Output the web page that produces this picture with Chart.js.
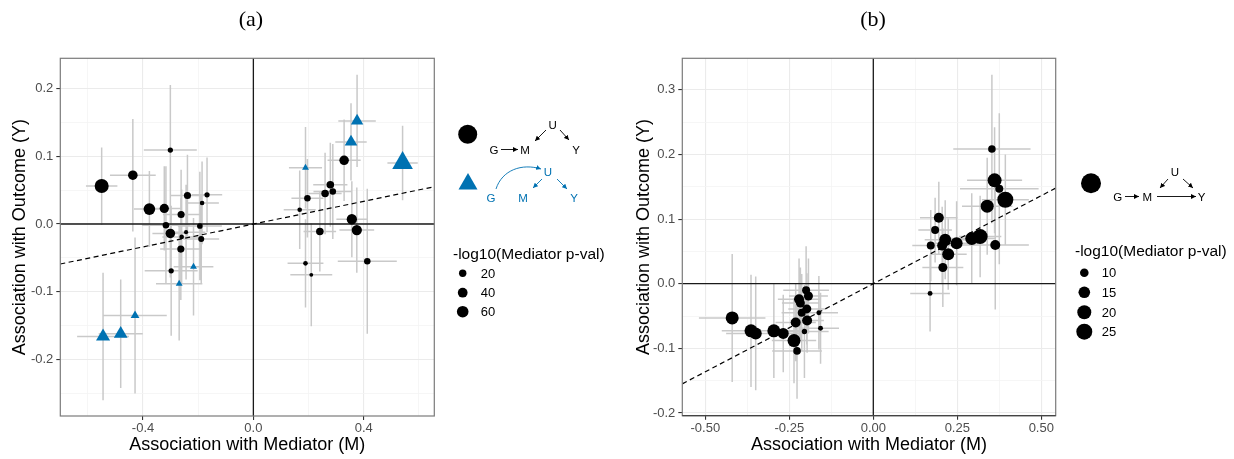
<!DOCTYPE html>
<html>
<head>
<meta charset="utf-8">
<script src="https://cdn.jsdelivr.net/npm/chart.js@4.4.1/dist/chart.umd.min.js"></script>
<style>
  html, body { margin:0; padding:0; background:#fff; }
  #wrap { position:relative; width:1234px; height:459px; overflow:hidden; background:#fff; }
  #wrap canvas { position:absolute; top:0; }
  #ca { left:0; }
  #cb { left:624px; }
  #ov { position:absolute; left:0; top:0; pointer-events:none; }
  #ov text { font-family:"Liberation Sans", Arial, sans-serif; }
</style>
</head>
<body>
<div id="wrap">
  <canvas id="ca" width="440" height="459"></canvas>
  <canvas id="cb" width="440" height="459"></canvas>
  <svg id="ov" width="1234" height="459" xmlns="http://www.w3.org/2000/svg">
    <defs>
      <marker id="ak" viewBox="0 0 10 10" refX="10" refY="5" markerWidth="5" markerHeight="5" markerUnits="userSpaceOnUse" orient="auto"><path d="M0,0 L10,5 L0,10 z" fill="#000"/></marker>
      <marker id="ab" viewBox="0 0 10 10" refX="10" refY="5" markerWidth="5" markerHeight="5" markerUnits="userSpaceOnUse" orient="auto"><path d="M0,0 L10,5 L0,10 z" fill="#0072B2"/></marker>
    </defs>
    <text x="251" y="26" text-anchor="middle" style="font-family:'Liberation Serif','DejaVu Serif',serif;font-size:22px">(a)</text>
    <text x="873" y="26" text-anchor="middle" style="font-family:'Liberation Serif','DejaVu Serif',serif;font-size:22px">(b)</text>

    <!-- panel (a) shape legend -->
    <circle cx="467.7" cy="134.3" r="9.5" fill="#000"/>
    <g font-size="11.5" text-anchor="middle" dominant-baseline="central" fill="#000">
      <text x="552.7" y="125">U</text>
      <text x="494" y="150">G</text>
      <text x="525" y="150">M</text>
      <text x="576" y="150">Y</text>
    </g>
    <g stroke="#000" stroke-width="0.9" fill="none">
      <line x1="501" y1="149.5" x2="518" y2="149.5" marker-end="url(#ak)"/>
      <line x1="546" y1="130" x2="535" y2="141" marker-end="url(#ak)"/>
      <line x1="560" y1="130" x2="569" y2="140" marker-end="url(#ak)"/>
    </g>
    <polygon points="468,173 458.5,189.5 477.5,189.5" fill="#0072B2"/>
    <g font-size="11.5" text-anchor="middle" dominant-baseline="central" fill="#0072B2">
      <text x="548" y="172">U</text>
      <text x="491" y="198">G</text>
      <text x="523" y="198">M</text>
      <text x="574" y="198">Y</text>
    </g>
    <g stroke="#0072B2" stroke-width="0.9" fill="none">
      <path d="M496,189 C502,170 522,163 541,169" marker-end="url(#ab)"/>
      <line x1="542" y1="179" x2="533" y2="188" marker-end="url(#ab)"/>
      <line x1="557" y1="179" x2="567" y2="189" marker-end="url(#ab)"/>
    </g>
    <text x="453" y="253" font-size="15.5" dominant-baseline="central" fill="#000">-log10(Mediator p-val)</text>
    <g id="keysA"></g>

    <!-- panel (b) shape legend -->
    <circle cx="1091" cy="183.3" r="10" fill="#000"/>
    <g font-size="11.5" text-anchor="middle" dominant-baseline="central" fill="#000">
      <text x="1175" y="172.3">U</text>
      <text x="1117.7" y="196.7">G</text>
      <text x="1147.3" y="196.7">M</text>
      <text x="1201.7" y="196.7">Y</text>
    </g>
    <g stroke="#000" stroke-width="0.9" fill="none">
      <line x1="1125" y1="196.5" x2="1139" y2="196.5" marker-end="url(#ak)"/>
      <line x1="1157" y1="196.5" x2="1196" y2="196.5" marker-end="url(#ak)"/>
      <line x1="1168" y1="179" x2="1160" y2="188" marker-end="url(#ak)"/>
      <line x1="1183" y1="179" x2="1193" y2="188" marker-end="url(#ak)"/>
    </g>
    <text x="1075" y="250" font-size="15.5" dominant-baseline="central" fill="#000">-log10(Mediator p-val)</text>
    <g id="keysB"></g>
  </svg>
</div>
<script>
// ---------------- Panel (a) data ----------------
const aX = [-0.550,-0.437,-0.301,-0.377,-0.323,-0.239,-0.168,-0.262,-0.186,-0.317,-0.301,-0.244,-0.194,-0.260,-0.189,-0.263,-0.298,
            -0.217,-0.269,-0.429,-0.481,-0.545,
             0.376, 0.354, 0.189, 0.541,
             0.329, 0.279, 0.288, 0.260, 0.196, 0.168, 0.357, 0.375, 0.241, 0.189, 0.210, 0.413];
const aY = [ 0.056, 0.072, 0.109, 0.022, 0.023, 0.042, 0.043, 0.014, 0.031,-0.002,-0.014,-0.012,-0.003,-0.019,-0.022,-0.037,-0.069,
            -0.063,-0.088,-0.135,-0.162,-0.166,
             0.152, 0.121, 0.083, 0.090,
             0.094, 0.058, 0.048, 0.045, 0.038, 0.021, 0.007,-0.009,-0.011,-0.058,-0.075,-0.055];
const aCI = [0.057,0.083,0.096,0.056,0.062,0.060,0.055,0.066,0.061,0.087,0.065,0.070,0.080,0.070,0.065,0.075,0.096,
             0.072,0.084,0.115,0.080,0.094,
             0.068,0.057,0.060,0.055,
             0.060,0.062,0.070,0.060,0.058,0.058,0.056,0.063,0.059,0.065,0.076,0.107];
const aSize = [91,38,7,60,35,18,7,18,4,14,38,2,9,4,11,18,7,
               8,8,17,52,55,
               41,43,8,129,
               38,21,14,21,14,4,45,45,21,4,1,14];
const aShape = [0,0,0,0,0,0,0,0,0,0,0,0,0,0,0,0,0,
                1,1,1,1,1,
                1,1,1,1,
                0,0,0,0,0,0,0,0,0,0,0,0];
const aFit = [{x:-0.700, y:-0.059}, {x:0.656, y:0.055}];
const aXLim = [-0.700, 0.656], aYLim = [-0.2832, 0.2444];
const aXTicks = [-0.6,-0.4,-0.2,0,0.2,0.4,0.6];
const aXLabels = ['','-0.4','','0.0','','0.4',''];
const aYTicks = [-0.25,-0.2,-0.15,-0.1,-0.05,0,0.05,0.1,0.15,0.2];
const aYLabels = ['','-0.2','','-0.1','','0.0','','0.1','','0.2'];
const aSizeBreaks = [20,40,60];

// ---------------- Panel (b) data ----------------
const bX = [-0.420,-0.364,-0.350,-0.296,-0.268,-0.236,-0.227,-0.231,-0.205,-0.197,-0.198,-0.213,-0.221,-0.217,-0.200,-0.193,-0.162,-0.157,
             0.353, 0.361, 0.375, 0.393, 0.339, 0.318, 0.293, 0.363, 0.248, 0.223, 0.214, 0.205, 0.195, 0.184, 0.171, 0.207, 0.169];
const bY = [-0.053,-0.073,-0.077,-0.073,-0.077,-0.088,-0.104,-0.060,-0.074,-0.057,-0.039,-0.045,-0.024,-0.030,-0.010,-0.019,-0.045,-0.069,
             0.2085,0.160, 0.147, 0.130, 0.120, 0.073, 0.070, 0.060, 0.0625,0.0455,0.068, 0.059, 0.102, 0.083, 0.059, 0.025,-0.015];
const bCI = [0.099,0.087,0.088,0.073,0.060,0.066,0.074,0.060,0.072,0.050,0.055,0.060,0.063,0.055,0.068,0.058,0.057,0.055,
             0.115,0.082,0.117,0.070,0.075,0.063,0.070,0.100,0.065,0.055,0.061,0.060,0.056,0.050,0.055,0.061,0.059];
const bSize = [17.8,17.8,15.7,17.8,13.8,17.8,8.7,12.1,6.5,12.1,10.6,9.2,12.1,10.6,9.2,10.6,6.2,6.2,
               8.7,20.0,9.2,25.1,17.8,22.5,17.8,12.1,15.7,15.7,15.7,12.1,12.1,9.2,9.2,10.6,6.2];
const bShape = bX.map(() => 0);
const bFit = [{x:-0.5685, y:-0.155}, {x:0.5429, y:0.148}];
const bXLim = [-0.5685, 0.5429], bYLim = [-0.2043, 0.3489];
const bXTicks = [-0.5,-0.375,-0.25,-0.125,0,0.125,0.25,0.375,0.5];
const bXLabels = ['-0.50','','-0.25','','0.00','','0.25','','0.50'];
const bYTicks = [-0.2,-0.15,-0.1,-0.05,0,0.05,0.1,0.15,0.2,0.25,0.3];
const bYLabels = ['-0.2','','-0.1','','0.0','','0.1','','0.2','','0.3'];
const bSizeBreaks = [10,15,20,25];

// ---------------- styling / helpers ----------------
const SANS = '"Liberation Sans", Arial, Helvetica, sans-serif';
const BLUE = '#0072B2';
const TRI = 1.45;
Chart.defaults.font.family = SANS;
const radA = v => 0.3 + Math.sqrt(Math.max(2.2 + 0.47 * v, 2.2));
const radB = v => 0.5 + Math.sqrt(Math.max(-13.3 + 2.77 * v, 3.5));

const framePlugin = {
  id: 'frame',
  afterDatasetDraw(chart, args) {
    if (chart.data.datasets[args.index].label !== 'err') return;
    const {ctx, chartArea: a, scales: {x, y}} = chart;
    const x0 = x.getPixelForValue(0), y0 = y.getPixelForValue(0);
    ctx.save();
    ctx.strokeStyle = '#1a1a1a'; ctx.lineWidth = 1.3;
    ctx.beginPath();
    ctx.moveTo(x0, a.top); ctx.lineTo(x0, a.bottom);
    ctx.moveTo(a.left, y0); ctx.lineTo(a.right, y0);
    ctx.stroke();
    ctx.restore();
  },
  afterDraw(chart, args, opts) {
    const {ctx, chartArea: a} = chart;
    ctx.save();
    ctx.strokeStyle = opts.color || '#777'; ctx.lineWidth = 1.2;
    ctx.strokeRect(a.left, a.top, a.right - a.left, a.bottom - a.top);
    if (opts.bottom) {
      ctx.strokeStyle = opts.bottom;
      ctx.beginPath(); ctx.moveTo(a.left, a.bottom); ctx.lineTo(a.right, a.bottom); ctx.stroke();
    }
    ctx.restore();
  }
};

function axis(lim, ticks, labels, isX, P) {
  const major = c => !!labels[c.index];
  const o = {
    type: 'linear', min: lim[0], max: lim[1], bounds: 'data',
    afterBuildTicks: s => { s.ticks = ticks.map(v => ({value: v})); },
    ticks: { autoSkip: false, maxRotation: 0, padding: isX ? 1 : 3, color: '#4d4d4d',
             font: {size: 13}, callback: (v, i) => labels[i] },
    grid: { color: c => major(c) ? '#ebebeb' : '#f4f4f4',
            lineWidth: c => major(c) ? 1.1 : 0.8,
            tickColor: c => major(c) ? '#333' : 'rgba(0,0,0,0)',
            tickLength: 4, tickWidth: 1.1 },
    border: { display: false },
    title: { display: true, color: '#000', font: {size: 18},
             text: isX ? 'Association with Mediator (M)' : 'Association with Outcome (Y)',
             padding: isX ? {top: 0, bottom: 3} : {top: 9, bottom: 0} }
  };
  if (isX) o.afterFit = s => { s.height = P.xAxisH; s.paddingLeft = 0; s.paddingRight = 0; };
  else o.afterFit = s => { s.width = P.yAxisW; s.paddingTop = 0; s.paddingBottom = 0; };
  return o;
}

function buildPanel(id, P) {
  const circ = [], circR = [], tri = [], triR = [], err = [];
  P.xs.forEach((x, i) => {
    const y = P.ys[i], r = P.rad(P.sizes[i]);
    if (P.shapes[i] === 1) { tri.push({x, y}); triR.push(r * TRI); }
    else { circ.push({x, y}); circR.push(r); }
    const e = P.cis[i];
    err.push({x: x - e, y}, {x: x + e, y}, {x, y: null});
    err.push({x, y: y - e}, {x, y: y + e}, {x, y: null});
  });
  return new Chart(document.getElementById(id), {
    type: 'scatter',
    data: { datasets: [
      {label: 'circles', data: circ, pointRadius: circR, pointStyle: 'circle', backgroundColor: '#000', borderWidth: 0, order: 0, clip: 0},
      {label: 'triangles', data: tri, pointRadius: triR, pointStyle: 'triangle', backgroundColor: BLUE, borderWidth: 0, order: 1, clip: 0},
      {label: 'fit', data: P.fit, showLine: true, borderColor: '#000', borderWidth: 1.2, borderDash: [5, 3.5], pointRadius: 0, order: 2, clip: 0},
      {label: 'err', data: err, showLine: true, borderColor: '#c9c9c9', borderWidth: 1.5, pointRadius: 0, spanGaps: false, order: 3, clip: 0}
    ]},
    options: {
      responsive: false, animation: false, events: [],
      layout: { padding: P.pad, autoPadding: false },
      plugins: { legend: {display: false}, tooltip: {enabled: false}, frame: P.frame },
      scales: { x: axis(P.xLim, P.xTicks, P.xLabels, true, P), y: axis(P.yLim, P.yTicks, P.yLabels, false, P) }
    },
    plugins: [framePlugin]
  });
}

buildPanel('ca', { xs: aX, ys: aY, cis: aCI, sizes: aSize, shapes: aShape, rad: radA, fit: aFit,
  xLim: aXLim, yLim: aYLim, xTicks: aXTicks, xLabels: aXLabels, yTicks: aYTicks, yLabels: aYLabels,
  pad: {left: 0.3, right: 5.7, top: 58.3, bottom: 0}, yAxisW: 60, xAxisH: 43, frame: {color: '#7a7a7a'} });

buildPanel('cb', { xs: bX, ys: bY, cis: bCI, sizes: bSize, shapes: bShape, rad: radB, fit: bFit,
  xLim: bXLim, yLim: bYLim, xTicks: bXTicks, xLabels: bXLabels, yTicks: bYTicks, yLabels: bYLabels,
  pad: {left: 0.3, right: 8.3, top: 58.3, bottom: 0}, yAxisW: 58, xAxisH: 43.3, frame: {color: '#7a7a7a', bottom: '#444'} });

// size legends
function keys(gid, breaks, rad, cx, tx, ys) {
  const g = document.getElementById(gid), NS = 'http://www.w3.org/2000/svg';
  breaks.forEach((b, i) => {
    const c = document.createElementNS(NS, 'circle');
    c.setAttribute('cx', cx); c.setAttribute('cy', ys[i]); c.setAttribute('r', rad(b)); c.setAttribute('fill', '#000');
    g.appendChild(c);
    const t = document.createElementNS(NS, 'text');
    t.setAttribute('x', tx); t.setAttribute('y', ys[i]); t.setAttribute('font-size', '13');
    t.setAttribute('dominant-baseline', 'central'); t.textContent = String(b);
    g.appendChild(t);
  });
}
keys('keysA', aSizeBreaks, radA, 462.7, 480.7, [273.3, 292.7, 311.7]);
keys('keysB', bSizeBreaks, radB, 1084.3, 1101.7, [272.7, 292.3, 312.3, 331.7]);
</script>
</body>
</html>
